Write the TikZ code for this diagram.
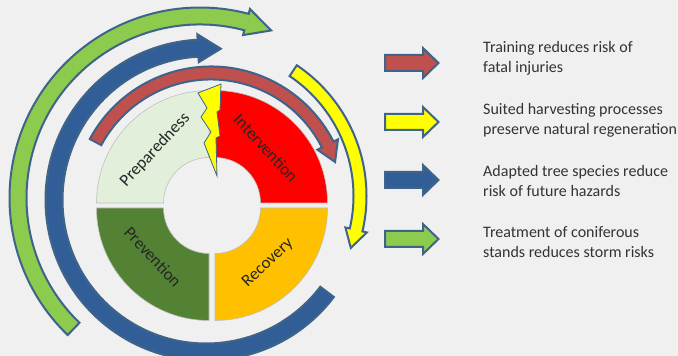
\documentclass[tikz,border=0pt]{standalone}
\usepackage{fontspec}
\setmainfont{Carlito}
\definecolor{bgc}{HTML}{F0F0F0}
\definecolor{edgeblue}{HTML}{3F6389}
\definecolor{cgreen}{HTML}{8CCB4E}
\definecolor{cblue}{HTML}{315E96}
\definecolor{cred}{HTML}{C0504D}
\definecolor{cyel}{HTML}{FFFF00}
\definecolor{cprep}{HTML}{E2EFDA}
\definecolor{cprev}{HTML}{548235}
\definecolor{crec}{HTML}{FFC000}
\definecolor{cint}{HTML}{FF0000}
\newcommand{\arcarrow}[9]{% cx cy r halfwidth headhalf start base tip fill
  \draw[arrowline,fill=#9] (#1,#2) ++(#6:#3+#4)
    arc[start angle=#6,end angle=#7,radius=#3+#4]
    -- ($(#1,#2)+(#7:#3+#5)$)
    -- ($(#1,#2)+(#8:#3)$)
    -- ($(#1,#2)+(#7:#3-#5)$)
    -- ($(#1,#2)+(#7:#3-#4)$)
    arc[start angle=#7,end angle=#6,radius=#3-#4] -- cycle;}
\newcommand{\sector}[4]{% cx cy startangle fill
  \draw[sectorline,fill=#4] (#1,#2) ++(#3:112.5)
    arc[start angle=#3,end angle=#3+90,radius=112.5]
    -- ($(#1,#2)+(#3+90:45.5)$)
    arc[start angle=#3+90,end angle=#3,radius=45.5] -- cycle;}
\newcommand{\straightarrow}[2]{% ycentre fill (in y-up coordinates)
  \draw[arrowline,fill=#2] (385,#1-8) -- (423,#1-8) -- (423,#1-15) -- (438.5,#1)
    -- (423,#1+15) -- (423,#1+8) -- (385,#1+8) -- cycle;}
\usetikzlibrary{calc}
\tikzset{
  arrowline/.style={draw=edgeblue,line width=2pt,line join=miter},
  sectorline/.style={draw=black!25,line width=0.6pt},
  seclabel/.style={font=\fontsize{17}{18}\selectfont,text=black!85,inner sep=0pt},
  legendtext/.style={font=\fontsize{16}{20}\selectfont,text=black!80,align=left,anchor=west,inner sep=0pt},
}
\begin{document}
\begin{tikzpicture}[x=1pt,y=1pt]
\useasboundingbox (0,0) rectangle (678,356);
\fill[bgc] (0,0) rectangle (678,356);
% outer ring arrows
\arcarrow{200}{158}{182}{8.5}{13.5}{226}{75.2}{67}{cgreen}
\arcarrow{206}{156}{152}{8.5}{14}{-37.2}{93-360}{84.4-360}{cblue}
\arcarrow{211}{152}{131}{6.5}{11.5}{151.8}{27}{18.7}{cred}
\arcarrow{209}{160}{151}{6.5}{11}{56.1}{-13}{-20.1}{cyel}
% sectors
\sector{209}{153}{90}{cprep}
\sector{209}{148}{180}{cprev}
\sector{215}{148}{270}{crec}
\sector{215}{153}{0}{cint}
% lightning bolt
\draw[draw=edgeblue,line width=0.8pt,fill=cyel,line join=miter]
  (221,272) -- (198,263) -- (207,248) -- (201,239) -- (211,224) -- (204,213)
  -- (217,180) -- (216,218) -- (220,220) -- (217,244) -- (220,246) -- cycle;
% sector labels
\node[seclabel,rotate=47] (prep) at (155,206) {Preparedness};
\node[seclabel,rotate=-47] (inter) at (266,208) {Intervention};
\node[seclabel,rotate=-47] (prev) at (153,99) {Prevention};
\node[seclabel,rotate=43] (reco) at (268,93) {Recovery};
% legend arrows
\straightarrow{293}{cred}
\straightarrow{234}{cyel}
\straightarrow{176}{cblue}
\straightarrow{117}{cgreen}
% legend texts
\node[legendtext] (t1) at (483,298) {Training reduces risk of\\fatal injuries};
\node[legendtext] (t2) at (483,236) {Suited harvesting processes\\preserve natural regeneration};
\node[legendtext] (t3) at (483,175) {Adapted tree species reduce\\risk of future hazards};
\node[legendtext] (t4) at (483,114) {Treatment of coniferous\\stands reduces storm risks};
\end{tikzpicture}
\end{document}
